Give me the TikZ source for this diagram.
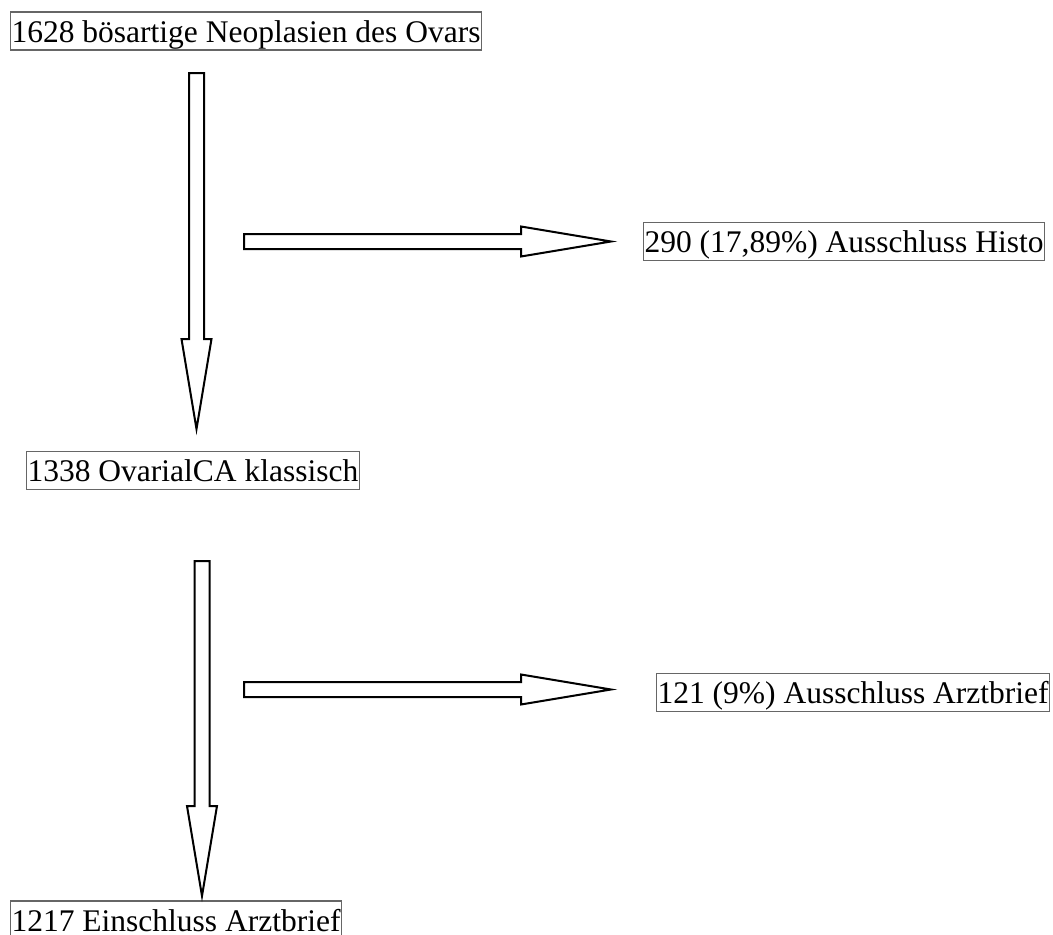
\documentclass[tikz,border=0pt]{standalone}
\usepackage{fontspec}
\setmainfont{Liberation Serif}
\usetikzlibrary{calc}

% shaft half width, head half width, head length
\def\shaftw{7.5pt}
\def\headw{15pt}
\def\headlen{90pt}

\tikzset{
  box/.style={draw=black!60, line width=1.2pt, anchor=west, inner xsep=1pt, inner ysep=1pt,
    text height=29pt, text depth=7pt, font=\fontsize{31.5}{38}\selectfont},
  blockarrow/.style={draw, line width=2pt, fill=white, to path={
    -- ($(\tikztostart)!\shaftw!90:(\tikztotarget)$)
    -- ($(\tikztotarget)!\headlen!(\tikztostart)!\shaftw!-90:(\tikztostart)$)
    -- ($(\tikztotarget)!\headlen!(\tikztostart)!\headw!-90:(\tikztostart)$)
    -- (\tikztotarget)
    -- ($(\tikztotarget)!\headlen!(\tikztostart)!\headw!90:(\tikztostart)$)
    -- ($(\tikztotarget)!\headlen!(\tikztostart)!\shaftw!90:(\tikztostart)$)
    -- ($(\tikztostart)!\shaftw!-90:(\tikztotarget)$)
    -- cycle}}
}

\begin{document}
\begin{tikzpicture}[x=1pt, y=-1pt]
\useasboundingbox (0,0) rectangle (1053,935);

% boxes
\node[box] (all) at (10,31) {1628 bösartige Neoplasien des Ovars};
\node[box] (histo) at (643,241.5) {290 (17,89\%) Ausschluss Histo};
\node[box] (klass) at (26,470.5) {1338 OvarialCA klassisch};
\node[box] (brief) at (656,692.5) {121 (9\%) Ausschluss Arztbrief};
\node[box] (ein) at (10,920) {1217 Einschluss Arztbrief};

% first step
\coordinate (v1s) at (196.5,73);
\coordinate (v1e) at (196.5,429);
\coordinate (h1s) at (244,241.5);
\coordinate (h1e) at (611,241.5);
\draw[blockarrow] (v1s) to (v1e);
\draw[blockarrow] (h1s) to (h1e);

% second step
\coordinate (v2s) at (202,561);
\coordinate (v2e) at (202,896);
\coordinate (h2s) at (244,689.5);
\coordinate (h2e) at (611,689.5);
\draw[blockarrow] (v2s) to (v2e);
\draw[blockarrow] (h2s) to (h2e);

\end{tikzpicture}
\end{document}
